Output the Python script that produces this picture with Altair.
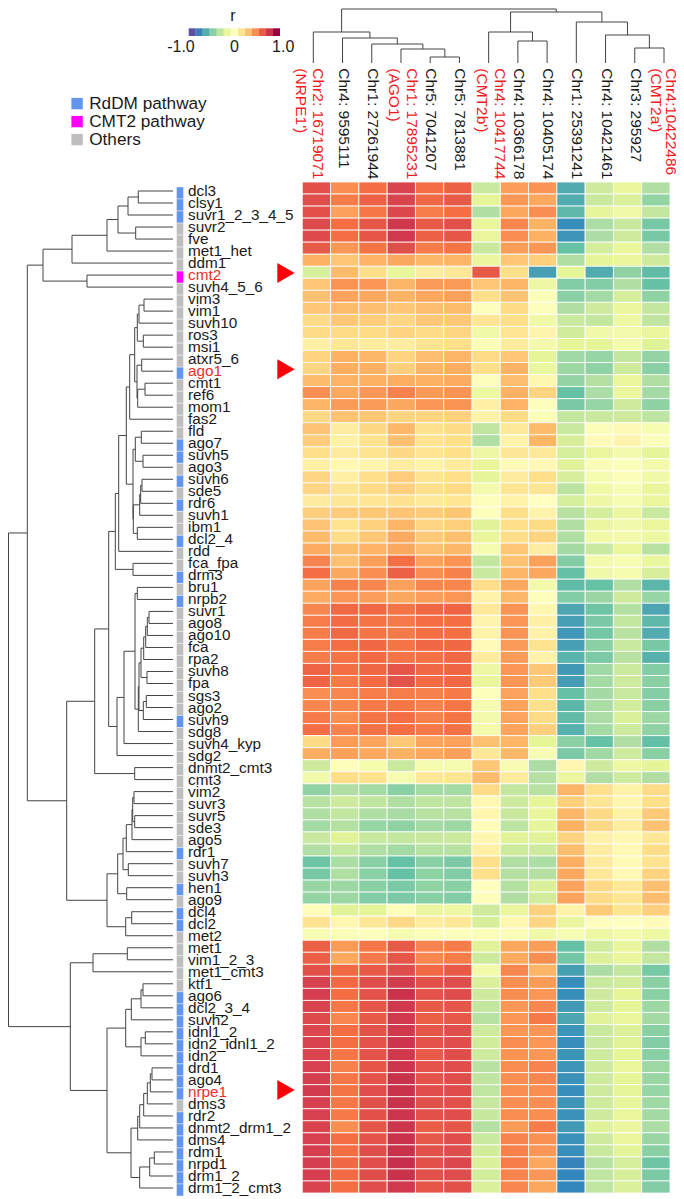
import altair as alt
import pandas as pd

FONT = "Liberation Sans"
W, H = 668, 1191

row_labels = ["dcl3","clsy1","suvr1_2_3_4_5","suvr2","fve","met1_het","ddm1","cmt2","suvh4_5_6","vim3","vim1","suvh10","ros3","msi1","atxr5_6","ago1","cmt1","ref6","mom1","fas2","fld","ago7","suvh5","ago3","suvh6","sde5","rdr6","suvh1","ibm1","dcl2_4","rdd","fca_fpa","drm3","bru1","nrpb2","suvr1","ago8","ago10","fca","rpa2","suvh8","fpa","sgs3","ago2","suvh9","sdg8","suvh4_kyp","sdg2","dnmt2_cmt3","cmt3","vim2","suvr3","suvr5","sde3","ago5","rdr1","suvh7","suvh3","hen1","ago9","dcl4","dcl2","met2","met1","vim1_2_3","met1_cmt3","ktf1","ago6","dcl2_3_4","suvh2","idnl1_2","idn2_idnl1_2","idn2","drd1","ago4","nrpe1","dms3","rdr2","dnmt2_drm1_2","dms4","rdm1","nrpd1","drm1_2","drm1_2_cmt3"]

rddm_genes = ["dcl3","clsy1","suvr1_2_3_4_5","ago1","ago7","suvh5","suvh6","rdr6","dcl2_4","drm3","nrpb2","suvh9","rdr1","hen1","dcl4","dcl2","ago6","dcl2_3_4","suvh2","idnl1_2","idn2_idnl1_2","idn2","drd1","ago4","nrpe1","rdr2","dnmt2_drm1_2","dms4","rdm1","nrpd1","drm1_2","drm1_2_cmt3"]
cmt2_genes = ["cmt2"]
marked_genes = ["cmt2","ago1","nrpe1"]

col_labels = ["Chr2: 16719071\n(NRPE1')","Chr4: 9595111","Chr1: 27261944","Chr1: 17895231\n(AGO1)","Chr5: 7041207","Chr5: 7813881","Chr4: 10417744\n(CMT2b')","Chr4: 10366178","Chr4: 10405174","Chr1: 25391241","Chr4: 10421461","Chr3: 295927","Chr4:10422486\n(CMT2a')"]
col_red = [0, 3, 6, 12]

# r x 100, one list per gene, in row order
heat_rows = [
[72,50,60,78,60,65,-30,45,48,-68,-28,-18,-38],
[73,55,65,78,62,68,-20,47,42,-68,-30,-24,-47],
[72,44,57,76,55,60,-38,42,50,-63,-20,-12,-32],
[75,60,70,82,68,72,-18,52,38,-78,-40,-30,-55],
[75,60,70,82,65,70,-18,50,39,-76,-40,-28,-55],
[68,47,58,73,55,58,-30,45,47,-60,-26,-18,-38],
[39,30,38,42,36,37,-17,30,27,-38,-20,-18,-28],
[-25,35,20,-18,12,15,68,20,-72,-20,-68,-48,-62],
[30,48,47,37,46,46,30,37,-14,-52,-52,-38,-60],
[33,43,42,38,42,44,20,32,-3,-50,-42,-26,-48],
[30,35,34,30,34,35,-1,22,-2,-38,-28,-17,-32],
[22,30,28,24,30,30,16,20,-12,-30,-32,-15,-33],
[22,22,22,25,22,24,-12,16,7,-27,-12,-10,-18],
[10,15,13,12,18,20,-5,13,-10,-20,-20,-9,-22],
[25,39,36,25,34,37,22,30,-20,-43,-46,-32,-47],
[24,40,39,27,37,40,20,38,-16,-44,-48,-28,-50],
[35,38,39,40,39,41,-2,34,6,-47,-37,-18,-38],
[50,42,47,54,46,48,-15,39,25,-60,-40,-17,-42],
[37,46,46,42,47,48,10,38,-2,-54,-46,-28,-48],
[23,32,30,25,25,26,8,22,-3,-32,-30,-28,-34],
[32,12,23,36,19,22,-33,14,35,-30,-3,4,-7],
[28,9,19,33,18,20,-38,8,37,-25,3,7,-3],
[20,13,18,23,17,20,-14,15,14,-26,-18,-9,-20],
[10,5,7,12,8,13,-18,3,4,-22,-5,-3,-10],
[24,10,20,28,18,20,-20,13,20,-25,-8,-3,-12],
[24,17,22,27,20,22,-10,17,17,-35,-13,-7,-18],
[13,15,16,19,14,16,-2,8,0,-26,-14,-7,-18],
[27,28,30,31,28,31,-1,20,8,-36,-26,-17,-30],
[32,18,26,37,24,27,-22,20,22,-38,-17,-11,-18],
[35,21,30,41,29,33,-18,21,25,-38,-13,-10,-15],
[41,35,38,42,33,36,-8,30,12,-42,-30,-18,-36],
[53,33,45,60,44,48,-32,32,44,-52,-10,-7,-17],
[60,42,50,65,50,54,-30,37,42,-60,-12,-8,-25],
[43,54,52,44,52,52,21,42,-10,-62,-60,-38,-64],
[41,47,45,42,45,47,8,36,-2,-52,-45,-28,-46],
[52,62,62,58,62,64,14,48,6,-70,-58,-37,-70],
[55,61,58,56,60,60,7,47,10,-72,-54,-32,-63],
[55,62,58,56,60,60,8,48,9,-75,-56,-36,-68],
[55,60,62,58,62,62,3,46,18,-72,-50,-30,-55],
[55,58,61,58,59,62,13,46,8,-65,-54,-36,-66],
[64,60,63,70,62,64,-14,47,30,-74,-43,-29,-52],
[64,56,61,71,61,62,-18,47,29,-73,-42,-28,-50],
[50,52,55,55,54,56,-1,43,20,-60,-42,-30,-51],
[52,52,56,57,54,57,-8,43,20,-64,-40,-27,-50],
[56,50,58,60,54,58,-10,43,22,-62,-40,-24,-44],
[60,54,59,60,56,59,-10,43,27,-66,-42,-28,-48],
[22,46,43,30,43,44,33,37,-20,-50,-60,-38,-61],
[40,44,42,39,42,44,15,36,-7,-54,-43,-28,-50],
[-28,-2,-9,-30,-8,-8,30,-6,-40,6,-28,-14,-20],
[-11,21,19,-8,15,17,35,13,-37,-17,-38,-28,-38],
[-48,-38,-42,-50,-42,-42,22,-32,-36,37,20,9,22],
[-36,-28,-33,-38,-33,-33,5,-28,-20,27,16,6,20],
[-38,-32,-38,-41,-36,-36,6,-30,-18,37,23,9,29],
[-42,-37,-46,-48,-42,-44,2,-34,-19,39,23,12,32],
[-30,-22,-31,-32,-30,-29,6,-22,-22,25,9,5,15],
[-38,-31,-38,-42,-36,-36,10,-28,-28,34,12,5,21],
[-58,-40,-50,-60,-50,-54,20,-38,-40,40,13,3,18],
[-55,-38,-50,-60,-48,-52,20,-37,-37,42,15,4,25],
[-46,-44,-50,-54,-48,-50,0,-37,-24,43,23,15,33],
[-47,-44,-52,-54,-50,-52,1,-38,-27,43,22,16,34],
[2,-22,-20,2,-16,-14,-28,-17,26,8,29,17,27],
[18,6,15,23,12,15,-25,6,24,-16,1,0,2],
[-6,-3,-2,-8,-3,-2,-3,-5,-13,-7,-15,-10,-15],
[65,46,57,68,53,55,-22,42,45,-60,-27,-18,-38],
[66,42,56,70,52,55,-28,41,50,-56,-23,-18,-32],
[72,62,68,74,62,68,-10,52,37,-72,-40,-32,-55],
[79,62,73,81,72,74,-24,50,46,-78,-30,-27,-50],
[80,60,71,84,71,74,-28,50,47,-78,-28,-20,-50],
[78,57,70,82,68,70,-32,47,52,-74,-28,-20,-44],
[75,52,68,82,66,69,-36,47,56,-70,-22,-18,-42],
[76,60,71,82,70,73,-28,47,47,-76,-30,-23,-50],
[78,60,71,83,71,73,-27,50,47,-78,-30,-22,-52],
[78,57,71,82,68,73,-28,48,47,-76,-28,-20,-50],
[79,54,70,83,71,73,-35,50,53,-76,-28,-18,-44],
[80,57,71,84,71,73,-33,50,52,-77,-28,-20,-45],
[81,58,73,84,73,74,-33,50,50,-78,-28,-20,-46],
[79,57,72,84,72,72,-31,50,50,-76,-28,-19,-43],
[79,56,72,83,72,73,-31,50,50,-77,-28,-18,-42],
[78,50,70,83,67,70,-37,46,55,-74,-22,-16,-40],
[79,60,71,84,69,73,-30,53,49,-77,-28,-18,-45],
[80,60,74,84,72,74,-27,54,47,-78,-30,-21,-50],
[80,62,73,85,72,76,-24,55,42,-82,-36,-26,-58],
[80,61,74,84,72,74,-27,53,47,-80,-33,-25,-54],
[78,60,73,82,70,72,-24,52,42,-80,-33,-24,-52],
]

# merge trees: (merge height, left, right); leaves are gene names or column numbers
top_cluster = (130,
    (101, (66, (55, (45, (34.7, "dcl3", "clsy1"), "suvr1_2_3_4_5"), (37.3, "suvr2", "fve")), "met1_het"), "ddm1"),
    (86, "cmt2", "suvh4_5_6"))
vim_group = (38.3,
    (35.7, (34, (29, "vim3", "vim1"), "suvh10"), (29.7, "ros3", "msi1")),
    (36, (31.3, "atxr5_6", "ago1"), (35.3, (28, "cmt1", "ref6"), "mom1")))
fld_group = (40,
    (37.7, (31.7, "fld", "ago7"), (30, "suvh5", "ago3")),
    (39.7, (33.3, (32.3, (31, "suvh6", "sde5"), "rdr6"), "suvh1"), (35.7, "ibm1", "dcl2_4")))
upper_mid = (57.7,
    (54.3, (46.7, (43.3, vim_group, "fas2"), fld_group), "rdd"),
    (40, "fca_fpa", "drm3"))
fca_group = (34.7,
    (34, (32, (29.3, (27.3, (25.7, (24, "suvr1", "ago8"), "ago10"), "fca"), "rpa2"), (26, "suvh8", "fpa")),
         (29.7, (26.7, "sgs3", "ago2"), "suvh9")),
    "sdg8")
kyp_group = (56, (49, (38, (35.7, "bru1", "nrpb2"), fca_group), "suvh4_kyp"), "sdg2")
mid_cluster = (78.3, (64.3, upper_mid, kyp_group), (38.3, "dnmt2_cmt3", "cmt3"))
low_mid = (66,
    (55.3,
     (50, (46.7, (41, (40.3, (39, "vim2", "suvr3"), (38.3, "suvr5", "sde3")), "ago5"), "rdr1"), (44.7, "suvh7", "suvh3")),
     (46.3, "hen1", "ago9")),
    (47.3, (41.3, "dcl4", "dcl2"), "met2"))
bottom_a = (80, (45.7, "met1", "vim1_2_3"), "met1_cmt3")
bottom_b = (47.3,
    (41.7, (32, (30, "ktf1", "ago6"), "dcl2_3_4"), "suvh2"),
    (32, (27.7, "idnl1_2", "idn2_idnl1_2"), "idn2"))
bottom_c = (42,
    (35.3, (33.3, (29.3, (25.7, (22.7, (21, "drd1", "ago4"), "nrpe1"), "dms3"), "rdr2"), "dnmt2_drm1_2"), "dms4"),
    (33.3, (23.3, (18.7, "rdm1", "nrpd1"), "drm1_2"), "drm1_2_cmt3"))
row_tree = (164.5,
    (145.7, top_cluster, (106.3, mid_cluster, low_mid)),
    (102.7, bottom_a, (66, bottom_b, bottom_c)))

col_tree = (54,
    (31, 0, (25, 1, (19, 2, (14, 3, (6, 4, 5))))),
    (51, (31, 6, (22, 7, 8)), (41, 9, (28, 10, (15, 11, 12)))))

legend_steps = [-1.0,-0.83,-0.67,-0.5,-0.33,-0.17,0.0,0.17,0.33,0.5,0.67,0.83,1.0]
legend_edges = [-1.0,-0.846,-0.692,-0.538,-0.385,-0.231,-0.077,0.077,0.231,0.385,0.538,0.692,0.846,1.0]
legend_ticks = ["-1.0","0","1.0"]
legend_tick_at = [-1.17,0.0,1.07]

spectral_stops = [-1,-0.8,-0.6,-0.4,-0.2,0,0.2,0.4,0.6,0.8,1]
spectral = ["#5e4fa2","#3288bd","#66c2a5","#abdda4","#e6f598","#ffffbf","#fee08b","#fdae61","#f46d43","#d53e4f","#9e0142"]
path_names = ["RdDM pathway","CMT2 pathway","Others"]
path_colors = ["#6495ed","#ff00ff","#bebebe"]


def xscale(v0, i0, v1, i1):
    """Linear x scale that sends value v0 to page pixel i0 and v1 to page pixel i1."""
    p0, p1 = i0 - 8, i1 - 8
    s = (v1 - v0) / (p1 - p0)
    return alt.Scale(domain=[v0 - p0 * s, v0 + (W - p0) * s], zero=False, nice=False)


def yscale(v0, i0, v1, i1):
    p0, p1 = i0 - 8, i1 - 8
    s = (v1 - v0) / (p1 - p0)
    return alt.Scale(domain=[v0 + (H - p0) * s, v0 - p0 * s], zero=False, nice=False)


def tree_segments(tree, pos):
    horiz, vert = [], []
    def walk(node):
        if not isinstance(node, tuple):
            return 0, pos(node)
        h, a, b = node
        ha, pa = walk(a)
        hb, pb = walk(b)
        horiz.append({"h1": ha, "h2": h, "p": pa})
        horiz.append({"h1": hb, "h2": h, "p": pb})
        vert.append({"h": h, "p1": pa, "p2": pb})
        return h, (pa + pb) / 2
    walk(tree)
    return pd.DataFrame(horiz), pd.DataFrame(vert)


color_scale = alt.Scale(domain=spectral_stops, range=spectral, interpolate="rgb")
dend_col = "#444444"
TXT = "#1a1a1a"
RED = "#ee1c25"

# heat map
heat_df = pd.DataFrame([
    {"row": i, "row2": i + 1, "col": j, "col2": j + 1, "r": v / 100}
    for i, row in enumerate(heat_rows) for j, v in enumerate(row)
])
heat_x = xscale(0, 302.3, 13, 670)
heat_y = yscale(0, 182, 84, 1193)
heat = alt.Chart(heat_df).mark_rect(stroke="white", strokeWidth=0.8).encode(
    x=alt.X("col:Q", axis=None, scale=heat_x), x2="col2:Q",
    y=alt.Y("row:Q", axis=None, scale=heat_y), y2="row2:Q",
    color=alt.Color("r:Q", scale=color_scale, legend=None),
)

# column dendrogram and labels
ch, cv = tree_segments(col_tree, lambda i: i)
col_x = xscale(0, 313.3, 12, 664)
col_y = yscale(0, 63, 54, 9)
col_v = alt.Chart(cv).mark_rule(color=dend_col, strokeWidth=1).encode(
    x=alt.X("p1:Q", axis=None, scale=col_x), x2="p2:Q", y=alt.Y("h:Q", axis=None, scale=col_y))
col_stems = alt.Chart(ch).mark_rule(color=dend_col, strokeWidth=1).encode(
    x=alt.X("p:Q", axis=None, scale=col_x), y=alt.Y("h1:Q", axis=None, scale=col_y), y2="h2:Q")
col_df = pd.DataFrame({"i": list(range(13)), "label": col_labels})


def col_text_layer(indices, color, dy, line_height=17.5):
    part = col_df[col_df.i.isin(indices)]
    return alt.Chart(part).mark_text(angle=90, align="left", baseline="middle", fontSize=15.5, color=color,
                                     font=FONT, lineBreak="\n", lineHeight=line_height, dy=dy).encode(
        x=alt.X("i:Q", axis=None, scale=col_x), y=alt.value(60.3), text="label:N")


col_text_black = col_text_layer([i for i in range(13) if i not in col_red], TXT, -1)
col_text_red_a = col_text_layer([0], RED, -5)
col_text_red_b = col_text_layer([3, 6], RED, -11)
col_text_red_c = col_text_layer([12], RED, -6.5, 14.5)

# colour key
key_df = pd.DataFrame({"a": legend_edges[:-1], "b": legend_edges[1:], "v": legend_steps})
key_x = xscale(-1, 188.7, 1, 280)
key = alt.Chart(key_df).mark_rect().encode(
    x=alt.X("a:Q", axis=None, scale=key_x), x2="b:Q",
    y=alt.value(20.3), y2=alt.value(28),
    color=alt.Color("v:Q", scale=color_scale, legend=None))
tick_df = pd.DataFrame({"t": legend_ticks, "at": legend_tick_at})
key_text = alt.Chart(tick_df).mark_text(fontSize=16, font=FONT, color=TXT, baseline="middle").encode(
    x=alt.X("at:Q", axis=None, scale=key_x), y=alt.value(38.7), text="t:N")
key_title = alt.Chart(pd.DataFrame({"t": ["r"], "at": [-0.03]})).mark_text(
    fontSize=16, font=FONT, color=TXT, baseline="middle").encode(
    x=alt.X("at:Q", axis=None, scale=key_x), y=alt.value(8), text="t:N")

# row dendrogram
rh, rv = tree_segments(row_tree, lambda g: row_labels.index(g))
dx = xscale(0, 173, 165, 8)
leaf_y = yscale(0, 191, 83, 1188)
row_h = alt.Chart(rh).mark_rule(color=dend_col, strokeWidth=1).encode(
    x=alt.X("h1:Q", axis=None, scale=dx), x2="h2:Q", y=alt.Y("p:Q", axis=None, scale=leaf_y))
row_v = alt.Chart(rv).mark_rule(color=dend_col, strokeWidth=1).encode(
    x=alt.X("h:Q", axis=None, scale=dx), y=alt.Y("p1:Q", axis=None, scale=leaf_y), y2="p2:Q")

# annotation strip, gene labels, arrows
side_df = pd.DataFrame({
    "gene": row_labels,
    "i": list(range(len(row_labels))),
    "i2": [i + 1 for i in range(len(row_labels))],
    "pathway": [path_names[0] if g in rddm_genes else path_names[1] if g in cmt2_genes else path_names[2] for g in row_labels],
    "kind": ["red" if g in marked_genes else "black" for g in row_labels],
})
strip = alt.Chart(side_df).mark_rect(stroke="white", strokeWidth=0.4).encode(
    x=alt.value(168.5), x2=alt.value(175.5),
    y=alt.Y("i:Q", axis=None, scale=yscale(0, 187, 84, 1196)), y2="i2:Q",
    color=alt.Color("pathway:N", scale=alt.Scale(domain=path_names, range=path_colors),
                    legend=alt.Legend(orient="none", legendX=60.5, legendY=87, title=None,
                                      symbolType="square", symbolSize=130, symbolStrokeWidth=0,
                                      labelFontSize=17.2, labelFont=FONT, labelColor=TXT,
                                      labelOffset=3.5, rowPadding=0, labelLimit=200,
                                      values=path_names)),
)
gene_text = alt.Chart(side_df).mark_text(align="left", baseline="middle", fontSize=15.3, font=FONT).encode(
    x=alt.value(180), y=alt.Y("i:Q", axis=None, scale=leaf_y), text="gene:N",
    color=alt.Color("kind:N", scale=alt.Scale(domain=["red", "black"], range=["#e8302a", TXT]), legend=None),
)
arrows = alt.Chart(side_df[side_df.kind == "red"]).mark_point(
    shape="triangle-right", filled=True, size=400, color="#fb0007", opacity=1, yOffset=-2, strokeWidth=0).encode(
    x=alt.value(278), y=alt.Y("i:Q", axis=None, scale=leaf_y))

chart = alt.layer(
    heat, key, key_text, key_title, col_v, col_stems, col_text_black, col_text_red_a, col_text_red_b, col_text_red_c,
    row_h, row_v, strip, gene_text, arrows,
).resolve_scale(x="independent", y="independent", color="independent").properties(
    width=W, height=H, padding=0, autosize=alt.AutoSizeParams(type="none")
).configure_view(stroke=None)

chart.save("out.html", embed_options={"renderer": "svg", "actions": False})
